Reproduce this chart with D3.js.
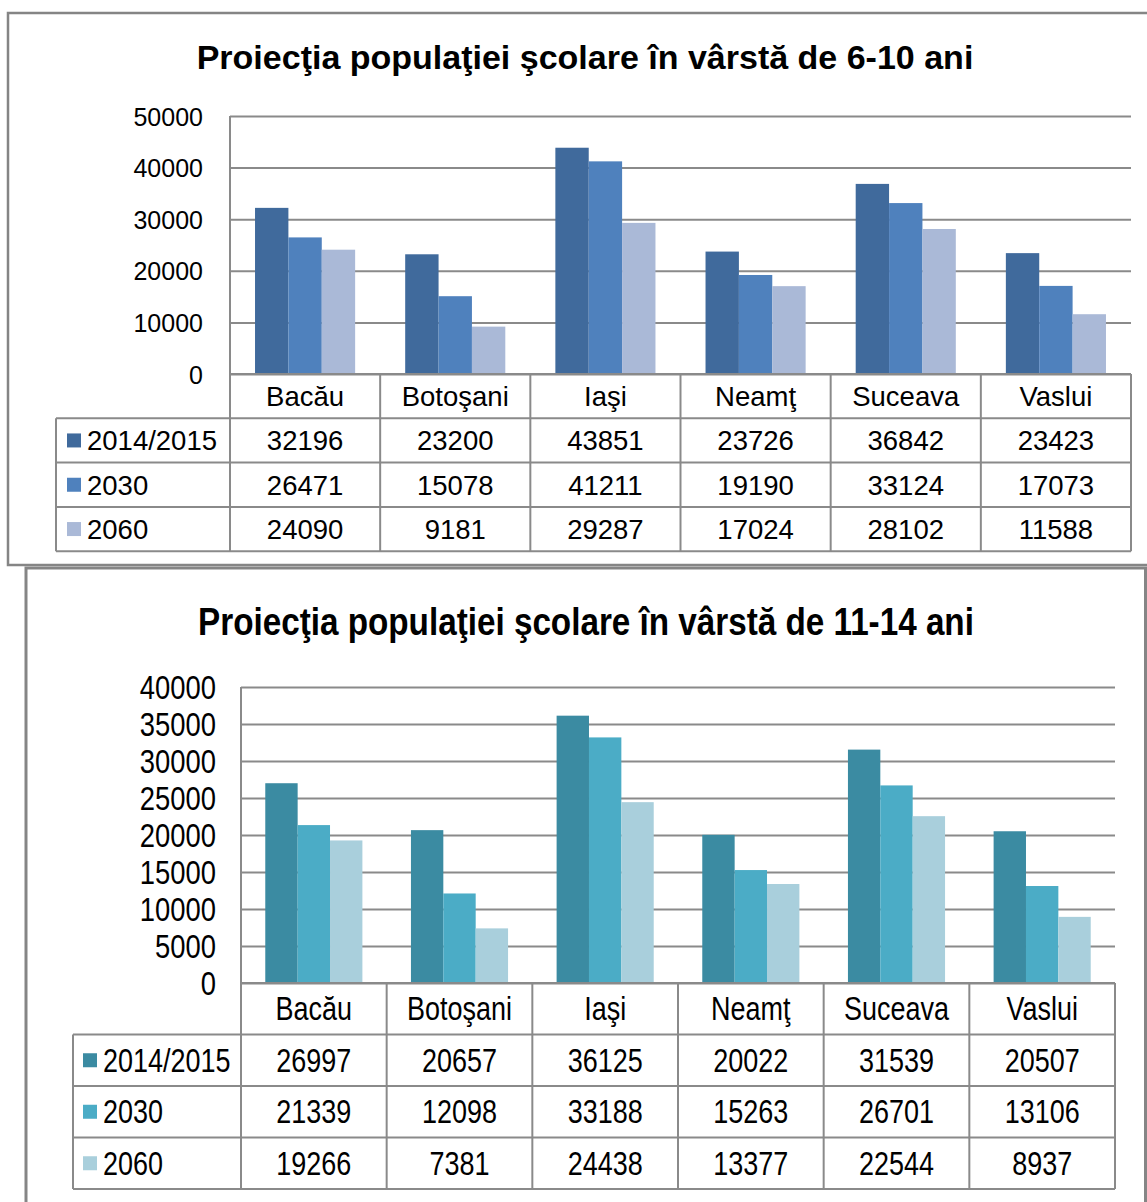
<!DOCTYPE html>
<html>
<head>
<meta charset="utf-8">
<script src="https://cdn.jsdelivr.net/npm/d3@7"></script>
<style>
body { margin: 0; background: #fff; }
text { font-family: "Liberation Sans", Arial, sans-serif; fill: #000; }
</style>
</head>
<body>
<script>
const counties = ["Bacău", "Botoşani", "Iaşi", "Neamţ", "Suceava", "Vaslui"];
const seriesNames = ["2014/2015", "2030", "2060"];

// 6-10 ani
const pop6to10_2014 = [32196, 23200, 43851, 23726, 36842, 23423];
const pop6to10_2030 = [26471, 15078, 41211, 19190, 33124, 17073];
const pop6to10_2060 = [24090, 9181, 29287, 17024, 28102, 11588];
const ticks6to10 = [0, 10000, 20000, 30000, 40000, 50000];

// 11-14 ani
const pop11to14_2014 = [26997, 20657, 36125, 20022, 31539, 20507];
const pop11to14_2030 = [21339, 12098, 33188, 15263, 26701, 13106];
const pop11to14_2060 = [19266, 7381, 24438, 13377, 22544, 8937];
const ticks11to14 = [0, 5000, 10000, 15000, 20000, 25000, 30000, 35000, 40000];

const width = 1147;
const height = 1202;
const lineColor = "#8a8a8a";

const svg = d3.select("body").append("svg")
    .attr("width", width)
    .attr("height", height);

svg.append("rect").attr("width", width).attr("height", height).attr("fill", "#fff");

// text squeezed horizontally by sx (the lower chart uses a narrow face)
function label(g, x, y, str, size, sx, anchor, weight) {
    return g.append("text")
        .attr("transform", `translate(${x},${y}) scale(${sx},1)`)
        .attr("text-anchor", anchor)
        .attr("dy", "0.36em")
        .style("font-size", size + "px")
        .style("font-weight", weight || "normal")
        .text(str);
}

function drawChart(o) {
    const g = svg.append("g");

    g.append("rect")
        .attr("x", o.frame[0]).attr("y", o.frame[1])
        .attr("width", o.frame[2]).attr("height", o.frame[3])
        .attr("fill", "#fff")
        .attr("stroke", "#858585")
        .attr("stroke-width", o.frameW);

    label(g, o.titleX, o.titleY, o.title, o.titleSize, o.titleSx, "middle", "bold")
        .attr("dy", null);

    const x0 = d3.scaleBand().domain(counties).range([o.left, o.right]);
    const x1 = d3.scaleBand().domain(seriesNames)
        .range([0, x0.bandwidth()])
        .paddingInner(0)
        .paddingOuter(0.75);
    const y = d3.scaleLinear().domain([0, d3.max(o.ticks)]).range([o.bottom, o.top]);

    // gridlines + tick labels
    const axis = d3.axisLeft(y)
        .tickValues(o.ticks)
        .tickFormat(d3.format("d"))
        .tickSize(-(o.right - o.left))
        .tickPadding(0);
    const ax = g.append("g").attr("transform", `translate(${o.left},0)`).call(axis);
    ax.select(".domain").remove();
    ax.selectAll(".tick line").attr("stroke", lineColor).attr("stroke-width", 2);
    ax.selectAll(".tick text")
        .attr("x", -o.labelPad / o.sx)
        .attr("dy", "0.36em")
        .attr("transform", `scale(${o.sx},1)`)
        .attr("fill", "#000")
        .style("font-size", o.axisSize + "px")
        .style("font-family", '"Liberation Sans", Arial, sans-serif');

    // bars
    seriesNames.forEach((s, i) => {
        g.append("g").selectAll("rect")
            .data(counties)
            .join("rect")
            .attr("x", c => x0(c) + x1(s))
            .attr("y", (c, j) => y(o.values[i][j]))
            .attr("width", x1.bandwidth())
            .attr("height", (c, j) => o.bottom - y(o.values[i][j]))
            .attr("fill", o.colors[i]);
    });

    // data table
    const rowY = k => o.bottom + k * o.rowH;
    const tbl = g.append("g")
        .attr("stroke", lineColor)
        .attr("stroke-width", 2)
        .attr("fill", "none");
    tbl.append("line").attr("x1", o.left).attr("x2", o.right).attr("y1", rowY(0)).attr("y2", rowY(0));
    [1, 2, 3, 4].forEach(k => {
        tbl.append("line").attr("x1", o.legendLeft).attr("x2", o.right).attr("y1", rowY(k)).attr("y2", rowY(k));
    });
    tbl.append("line").attr("x1", o.legendLeft).attr("x2", o.legendLeft).attr("y1", rowY(1)).attr("y2", rowY(4));
    tbl.append("line").attr("x1", o.left).attr("x2", o.left).attr("y1", o.top).attr("y2", rowY(4));
    counties.slice(1).forEach(c => {
        tbl.append("line").attr("x1", x0(c)).attr("x2", x0(c)).attr("y1", rowY(0)).attr("y2", rowY(4));
    });
    tbl.append("line").attr("x1", o.right).attr("x2", o.right).attr("y1", rowY(0)).attr("y2", rowY(4));

    const half = x0.bandwidth() / 2;
    counties.forEach(c => {
        label(g, x0(c) + half, rowY(0.5), c, o.cellSize, o.sx, "middle");
    });
    seriesNames.forEach((s, i) => {
        const cy = rowY(i + 1.5);
        g.append("rect")
            .attr("x", o.swatchX).attr("y", cy - 7)
            .attr("width", 14).attr("height", 14)
            .attr("fill", o.colors[i]);
        label(g, o.legendTextX, cy, s, o.cellSize, o.sx, "start");
        counties.forEach((c, j) => {
            label(g, x0(c) + half, cy, o.values[i][j], o.cellSize, o.sx, "middle");
        });
    });
}

drawChart({
    frame: [8, 13, 1200, 552], frameW: 2.5,
    title: "Proiecţia populaţiei şcolare în vârstă de 6-10 ani",
    titleX: 585, titleY: 69, titleSize: 34, titleSx: 1,
    left: 230, right: 1131, top: 116, bottom: 374, rowH: 44.3,
    ticks: ticks6to10,
    values: [pop6to10_2014, pop6to10_2030, pop6to10_2060],
    colors: ["#406a9c", "#4f81bd", "#aab9d7"],
    labelPad: 27, axisSize: 25, cellSize: 27.5, sx: 1,
    legendLeft: 56, swatchX: 67, legendTextX: 87
});

drawChart({
    frame: [26, 568, 1119.5, 700], frameW: 3,
    title: "Proiecţia populaţiei şcolare în vârstă de 11-14 ani",
    titleX: 586, titleY: 635, titleSize: 38, titleSx: 0.875,
    left: 241, right: 1115, top: 687, bottom: 983, rowH: 51.5,
    ticks: ticks11to14,
    values: [pop11to14_2014, pop11to14_2030, pop11to14_2060],
    colors: ["#3b8ba2", "#4bacc6", "#a9cfdc"],
    labelPad: 25, axisSize: 33, cellSize: 32.5, sx: 0.83,
    legendLeft: 73, swatchX: 83, legendTextX: 103
});
</script>
</body>
</html>
